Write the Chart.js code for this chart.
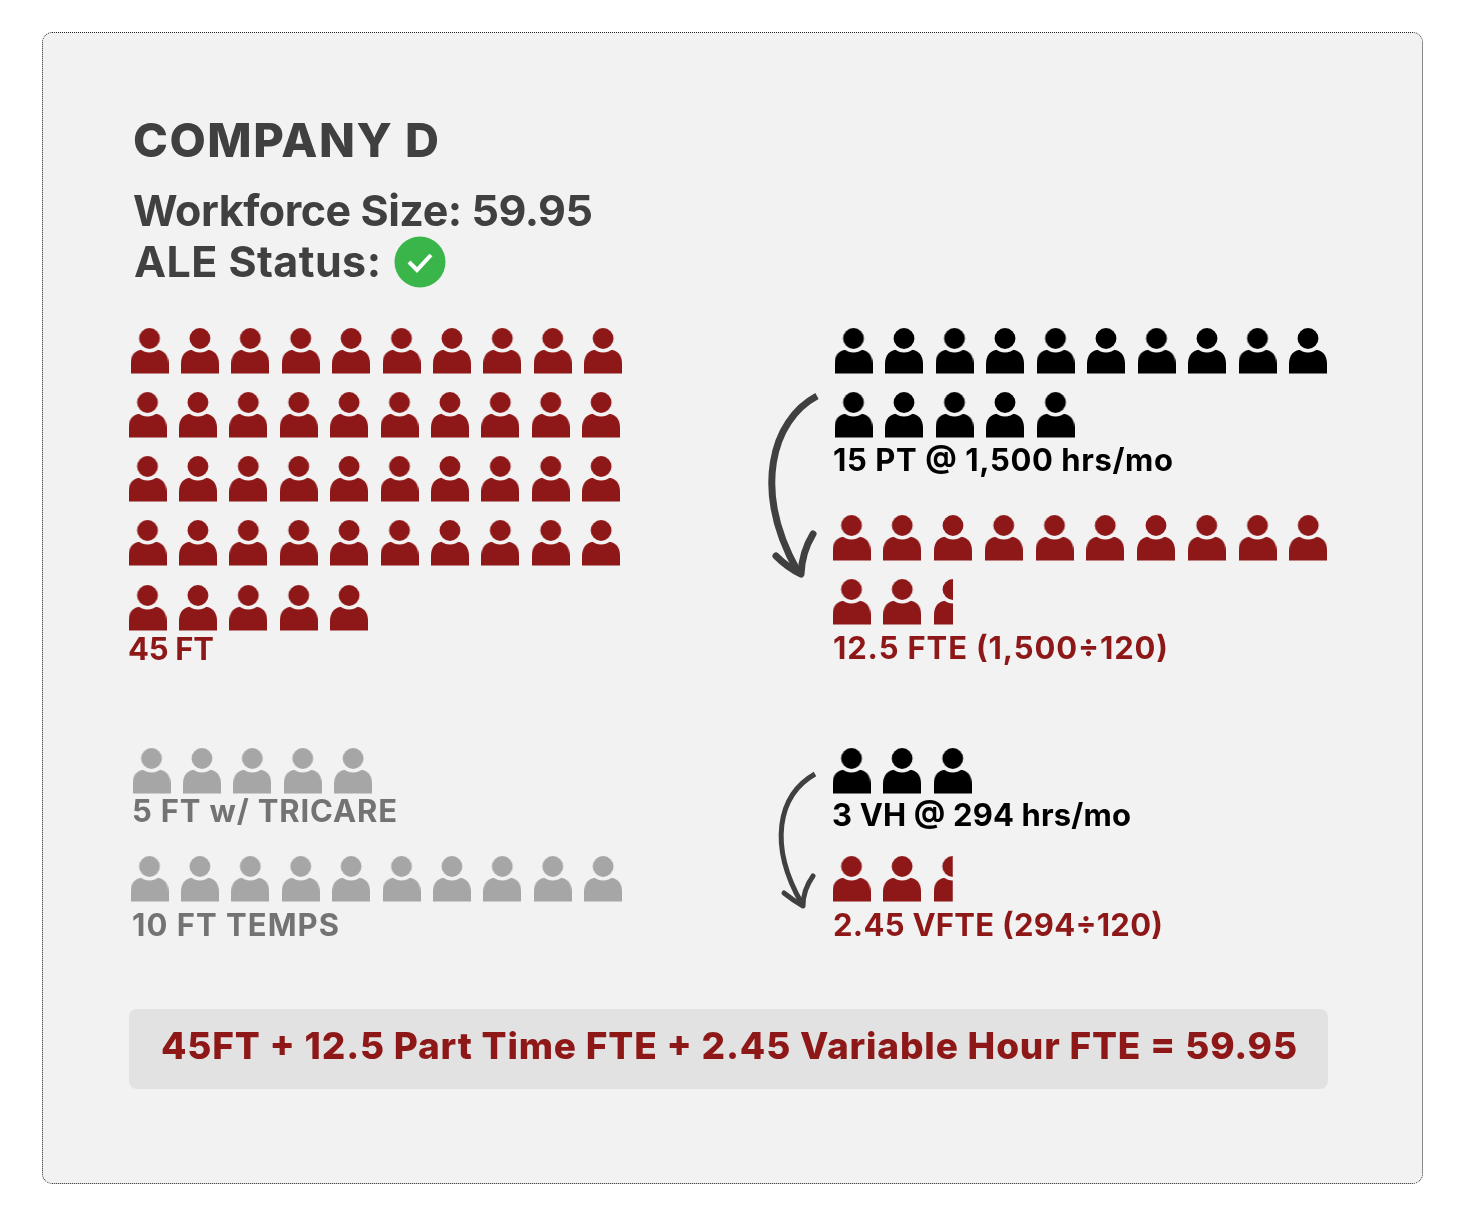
<!DOCTYPE html>
<html>
<head>
<meta charset="utf-8">
<title>Company D</title>
<script src="https://cdn.jsdelivr.net/npm/chart.js@4"></script>
<style>
  html, body { margin: 0; padding: 0; background: #fff; }
  #stage { position: relative; width: 1458px; height: 1218px; overflow: hidden; }
  #panel { position: absolute; left: 42px; top: 32px; width: 1379px; height: 1150px;
           background: #f2f2f2; border: 1px dotted #222; border-radius: 10px; }
  #chart { position: absolute; left: 0; top: 0; }
  #overlay { position: absolute; left: 0; top: 0; pointer-events: none; }
  #overlay text { font-family: Inter, "Open Sans", sans-serif; }
</style>
</head>
<body>
<div id="stage">
  <div id="panel"></div>
  <canvas id="chart" width="1458" height="1218"></canvas>
  <svg id="overlay" width="1458" height="1218" viewBox="0 0 1458 1218"></svg>
</div>
<script>
// values
const fullTime = 45;
const partTime = 15;
const partTimeFte = 12.5;
const tricare = 5;
const temps = 10;
const variableHour = 3;
const variableFteIcons = 2.5; // 2.45 in the label, the last icon is still cut in half
const iconsPerRow = 10;

const RED = '#8e1718';
const GREY = '#a6a6a6';
const BLACK = '#000000';
const DARK = '#404040';
const MID = '#737373';

const ICON_W = 38;
const ICON_H = 46;

// Where each block of people sits: left edge and top edge of every row
const blocks = [
  { value: fullTime, color: RED, pitch: 50.4, lefts: [130.5, 128.5, 128.5, 128.5, 128.5], tops: [328, 392, 456, 520, 585] },
  { value: partTime, color: BLACK, pitch: 50.5, lefts: [834.5, 834.5], tops: [328, 392] },
  { value: partTimeFte, color: RED, pitch: 50.75, lefts: [832.5, 832.5], tops: [515, 579] },
  { value: tricare, color: GREY, pitch: 50.4, lefts: [132.5], tops: [748] },
  { value: temps, color: GREY, pitch: 50.4, lefts: [130.5], tops: [856] },
  { value: variableHour, color: BLACK, pitch: 50.6, lefts: [832.5], tops: [748] },
  { value: variableFteIcons, color: RED, pitch: 50.6, lefts: [832.5], tops: [856] }
];

// Person glyph as a canvas, so Chart.js can use it as a pointStyle
const makeIcon = (color, share) => {
  const c = document.createElement('canvas');
  c.width = ICON_W;
  c.height = ICON_H;
  const ctx = c.getContext('2d');
  ctx.fillStyle = color;
  // body
  ctx.beginPath();
  ctx.moveTo(0, 45.5);
  ctx.lineTo(0, 36);
  ctx.bezierCurveTo(0, 27, 5, 22, 12, 21.5);
  ctx.lineTo(26, 21.5);
  ctx.bezierCurveTo(33, 22, 38, 27, 38, 36);
  ctx.lineTo(38, 45.5);
  ctx.closePath();
  ctx.fill();
  // gap around the head
  ctx.globalCompositeOperation = 'destination-out';
  ctx.beginPath();
  ctx.arc(19, 10.5, 14, 0, Math.PI * 2);
  ctx.fill();
  ctx.globalCompositeOperation = 'source-over';
  // head
  ctx.beginPath();
  ctx.arc(19, 10.5, 10.4, 0, Math.PI * 2);
  ctx.fill();
  // cut icons keep their left part only
  if (share < 1) {
    ctx.clearRect(ICON_W * share, 0, ICON_W, ICON_H);
  }
  return c;
};

const datasets = [];
blocks.forEach(block => {
  const whole = Math.floor(block.value);
  const share = block.value - whole;
  const total = share > 0 ? whole + 1 : whole;
  const points = [];
  const styles = [];
  const fullIcon = makeIcon(block.color, 1);
  for (let i = 0; i < total; i++) {
    const row = Math.floor(i / iconsPerRow);
    const col = i % iconsPerRow;
    points.push({
      x: block.lefts[row] + col * block.pitch + ICON_W / 2,
      y: block.tops[row] + ICON_H / 2
    });
    styles.push(i < whole ? fullIcon : makeIcon(block.color, share));
  }
  datasets.push({
    data: points,
    pointStyle: styles,
    pointRadius: ICON_W / 2,
    showLine: false,
    clip: false
  });
});

new Chart(document.getElementById('chart'), {
  type: 'scatter',
  data: { datasets },
  options: {
    responsive: false,
    animation: false,
    // the big point radius would otherwise shrink the plot area
    layout: { padding: 0, autoPadding: false },
    plugins: { legend: { display: false }, tooltip: { enabled: false } },
    events: [],
    scales: {
      x: { type: 'linear', display: false, min: 0, max: 1458 },
      y: { type: 'linear', display: false, min: 0, max: 1218, reverse: true }
    }
  }
});

// Text and decoration on top of the chart
const labels = [
  { text: 'COMPANY D', x: 133, y: 157, size: 47, weight: 800, color: DARK, width: 306 },
  { text: 'Workforce Size: 59.95', x: 133, y: 226, size: 43, weight: 700, color: DARK, width: 460 },
  { text: 'ALE Status:', x: 134, y: 277, size: 43, weight: 700, color: DARK, width: 247 },
  { text: '45 FT', x: 128, y: 660, size: 31, weight: 700, color: RED, width: 86 },
  { text: '15 PT @ 1,500 hrs/mo', x: 833, y: 471, size: 31, weight: 700, color: BLACK, width: 340 },
  { text: '12.5 FTE (1,500÷120)', x: 833, y: 659, size: 31, weight: 700, color: RED, width: 335 },
  { text: '5 FT w/ TRICARE', x: 132, y: 822, size: 31, weight: 700, color: MID, width: 265 },
  { text: '10 FT TEMPS', x: 132, y: 936, size: 31, weight: 700, color: MID, width: 207 },
  { text: '3 VH @ 294 hrs/mo', x: 832, y: 826, size: 31, weight: 700, color: BLACK, width: 299 },
  { text: '2.45 VFTE (294÷120)', x: 833, y: 936, size: 31, weight: 700, color: RED, width: 330 },
  { text: '45FT + 12.5 Part Time FTE + 2.45 Variable Hour FTE = 59.95', x: 161, y: 1059, size: 37, weight: 800, color: RED, width: 1136 }
];

const NS = 'http://www.w3.org/2000/svg';
const overlay = document.getElementById('overlay');
const addSvg = (tag, attrs, content) => {
  const el = document.createElementNS(NS, tag);
  Object.keys(attrs).forEach(k => el.setAttribute(k, attrs[k]));
  if (content) el.textContent = content;
  overlay.appendChild(el);
  return el;
};

// formula bar
addSvg('rect', { x: 129, y: 1009, width: 1199, height: 80, rx: 8, fill: '#e2e2e2' });

// ALE status tick
addSvg('circle', { cx: 420, cy: 262, r: 25.5, fill: '#39b54a' });
addSvg('path', { d: 'M409 262 L417 270 L431 255', fill: 'none', stroke: '#fff', 'stroke-width': 4 });

// curved arrows
const arrows = [
  { line: 'M817 396 C 772 420, 752 490, 798 572', head: 'M776 556 Q 788 568 801 574 Q 802 552 813 534', width: 7 },
  { line: 'M815 774 C 778 795, 768 845, 802 904', head: 'M784 893 Q 794 901 803 906 Q 803 890 813 876', width: 5 }
];
arrows.forEach(a => {
  addSvg('path', { d: a.line, fill: 'none', stroke: DARK, 'stroke-width': a.width });
  addSvg('path', { d: a.head, fill: 'none', stroke: DARK, 'stroke-width': a.width, 'stroke-linejoin': 'round', 'stroke-linecap': 'round' });
});

labels.forEach(l => {
  addSvg('text', {
    x: l.x, y: l.y, fill: l.color,
    'font-size': l.size, 'font-weight': l.weight,
    textLength: l.width, lengthAdjust: 'spacing'
  }, l.text);
});
</script>
</body>
</html>
